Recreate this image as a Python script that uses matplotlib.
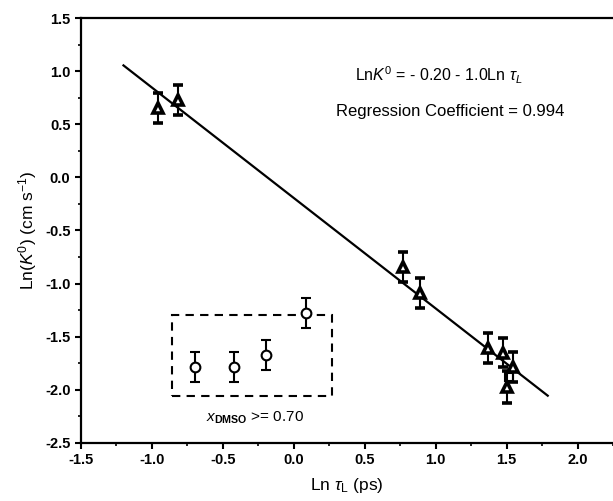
import numpy as np
import matplotlib
matplotlib.use('Agg')
import matplotlib.pyplot as plt
from matplotlib.patches import Rectangle
from matplotlib.ticker import MultipleLocator

plt.rcParams['font.family'] = ['Liberation Sans', 'DejaVu Sans']
plt.rcParams['mathtext.fontset'] = 'custom'
plt.rcParams['mathtext.rm'] = 'Liberation Sans'
plt.rcParams['mathtext.it'] = 'Liberation Sans:italic'
plt.rcParams['mathtext.bf'] = 'Liberation Sans:bold'
plt.rcParams['axes.unicode_minus'] = False

# triangles (main series)
tri_x = [-0.958, -0.817, 0.768, 0.887, 1.366, 1.472, 1.542, 1.50]
tri_y = [0.653, 0.728, -0.843, -1.088, -1.606, -1.65, -1.785, -1.97]
tri_err = [0.14, 0.14, 0.14, 0.14, 0.14, 0.14, 0.14, 0.15]

# open square
sq_x = [1.52]
sq_y = [-1.88]

# inset points, x_DMSO >= 0.70
circ_x = [-0.697, -0.423, -0.197, 0.085]
circ_y = [-1.785, -1.785, -1.672, -1.276]
circ_err = [0.14, 0.14, 0.14, 0.14]

# regression line as drawn
fit_range = [-1.2, 1.79]
fit_a = -0.194
fit_b = -1.04

fig = plt.figure(figsize=(6.13, 5.01), dpi=100)
ax = fig.add_axes([0.132, 0.116, 0.868, 0.848])

fx = np.array(fit_range)
ax.plot(fx, fit_a + fit_b * fx, color='black', lw=1.6, zorder=1)

ax.errorbar(tri_x, tri_y, yerr=tri_err, fmt='^', ms=7.5, mfc='white', mec='black',
            mew=2.6, ecolor='black', elinewidth=1.5, capsize=3.6, capthick=1.5, zorder=3)
ax.plot(sq_x, sq_y, 's', ms=6, mfc='white', mec='black', mew=1.5, zorder=2)
ax.errorbar(circ_x, circ_y, yerr=circ_err, fmt='o', ms=7, mfc='white', mec='black',
            mew=1.5, ecolor='black', elinewidth=1.5, capsize=3.6, capthick=1.5, zorder=3)

box = Rectangle((-0.859, -2.058), 1.127, 0.763, fill=False, ls=(0, (4, 3)), lw=1.5,
                ec='black', zorder=2)
ax.add_patch(box)

ax.text(-0.27, -2.265, r'$x_{\mathbf{DMSO}}$ >= 0.70', ha='center', va='center', fontsize=11)
ax.text(1.02, 0.96, r'Ln$K^0$ = - 0.20 - 1.0Ln $\tau_L$', ha='center', va='center', fontsize=11.5)
ax.text(1.10, 0.62, 'Regression Coefficient = 0.994', ha='center', va='center', fontsize=12)

ax.set_xlim(-1.5, 2.25)
ax.set_ylim(-2.5, 1.5)
ax.xaxis.set_major_locator(MultipleLocator(0.5))
ax.xaxis.set_minor_locator(MultipleLocator(0.25))
ax.yaxis.set_major_locator(MultipleLocator(0.5))
ax.yaxis.set_minor_locator(MultipleLocator(0.25))
ax.tick_params(which='major', direction='out', length=4, width=1.5, labelsize=10.5)
ax.tick_params(which='minor', direction='out', length=2.5, width=1.2)
for lab in ax.get_xticklabels() + ax.get_yticklabels():
    lab.set_fontweight('bold')
ax.spines['right'].set_visible(False)
for s in ['left', 'bottom', 'top']:
    ax.spines[s].set_linewidth(1.6)

ax.set_xlabel(r'Ln $\tau_{\rm L}$ (ps)', fontsize=12.5, labelpad=6)
ax.set_ylabel(r'Ln($K^0$) (cm s$^{-1}$)', fontsize=12.5, labelpad=4)

fig.savefig('out.png', dpi=100)
